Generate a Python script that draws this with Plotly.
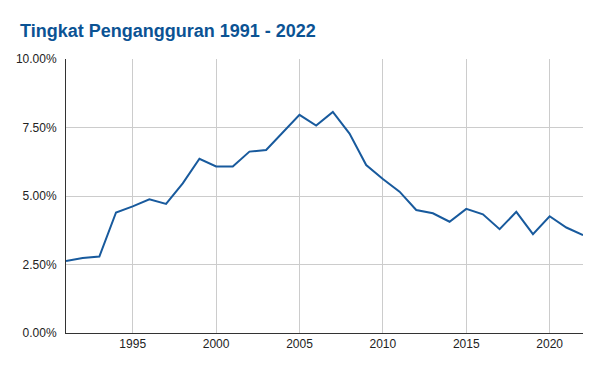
import plotly.graph_objects as go

years = list(range(1991, 2023))
unemployment_pct = [2.63, 2.74, 2.79, 4.40, 4.62, 4.88, 4.71, 5.46, 6.36, 6.08,
                    6.08, 6.62, 6.68, 7.32, 7.96, 7.57, 8.07, 7.28, 6.13, 5.62,
                    5.16, 4.49, 4.37, 4.06, 4.53, 4.33, 3.79, 4.42, 3.61, 4.26,
                    3.85, 3.57]
values = [v / 100 for v in unemployment_pct]
title_text = "Tingkat Pengangguran 1991 - 2022"
y_ticks = [0, 0.025, 0.05, 0.075, 0.10]
x_ticks = [1995, 2000, 2005, 2010, 2015, 2020]

fig = go.Figure(go.Scatter(x=years, y=values, mode="lines",
                           line=dict(color="#185a9d", width=2),
                           hoverinfo="skip"))

fig.update_layout(
    width=600, height=371,
    margin=dict(l=66, r=17, t=59, b=38),
    paper_bgcolor="white", plot_bgcolor="white",
    showlegend=False,
    font=dict(family="Liberation Sans, Arial, sans-serif", size=12, color="#222222"),
    title=dict(text="<b>" + title_text + "</b>", x=20 / 600, xref="container", xanchor="left",
               y=1 - 31 / 371, yref="container", yanchor="middle",
               font=dict(size=18, color="#0b5394", family="Liberation Sans, Arial, sans-serif")),
    xaxis=dict(range=[1991, 2022], tickvals=x_ticks, showgrid=True, gridcolor="#cccccc",
               gridwidth=1, zeroline=False, showline=True, linecolor="#333333", linewidth=1,
               ticks="", ticklen=0),
    yaxis=dict(range=[0, 0.10], tickvals=y_ticks, tickformat=".2%", showgrid=True,
               gridcolor="#cccccc", gridwidth=1, zeroline=False, showline=True,
               linecolor="#333333", linewidth=1, ticks="", ticklabelstandoff=6),
)

fig.write_html("out.html", config={"displayModeBar": False},
               post_script="document.body.style.margin='0';document.body.style.padding='0';")
